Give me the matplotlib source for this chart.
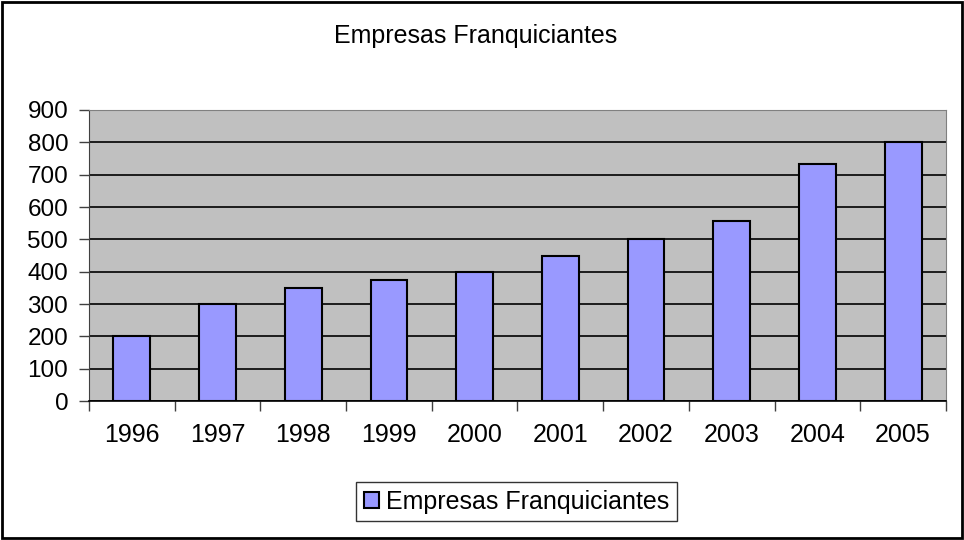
import matplotlib.pyplot as plt
from matplotlib.patches import Rectangle
from matplotlib.ticker import FixedLocator

years = ['1996', '1997', '1998', '1999', '2000', '2001', '2002', '2003', '2004', '2005']
empresas = [200, 300, 350, 375, 400, 447, 500, 557, 734, 800]
series_name = 'Empresas Franquiciantes'

plt.rcParams['font.family'] = ['Liberation Sans', 'DejaVu Sans']

fig = plt.figure(figsize=(9.64, 5.40), dpi=100)
ax = fig.add_axes([0.0923, 0.2574, 0.889, 0.5389])

x = range(len(years))
ax.bar(x, empresas, width=0.43, color='#9999FF', edgecolor='black',
       linewidth=1.5, label=series_name, zorder=3)

ax.set_facecolor('#C0C0C0')
ax.set_xlim(-0.5, len(years) - 0.5)
ax.set_ylim(0, 900)
ax.set_yticks(range(0, 1000, 100))
ax.yaxis.grid(True, color='black', linewidth=1.2, zorder=1)
ax.set_axisbelow(True)

ax.set_xticks(list(x))
ax.set_xticklabels(years, fontsize=18)
ax.tick_params(axis='x', length=0, pad=16)
ax.xaxis.set_minor_locator(FixedLocator([i + 0.5 for i in range(-1, len(years))]))
ax.tick_params(axis='x', which='minor', length=7, color='#404040', width=1)
ax.tick_params(axis='y', labelsize=17.5, length=7, color='#404040', width=1, pad=8)

for side in ['top', 'right']:
    ax.spines[side].set_color('#808080')
ax.spines['left'].set_color('#404040')
ax.spines['bottom'].set_color('black')
ax.spines['bottom'].set_linewidth(1.2)

fig.text(0.4938, 0.933, series_name, ha='center', va='center', fontsize=18)

leg = fig.legend(loc='center', bbox_to_anchor=(0.536, 0.071), fontsize=18,
                 frameon=True, fancybox=False, handlelength=0.6, handleheight=0.6,
                 handletextpad=0.3, borderpad=0.3, borderaxespad=0)
leg.get_frame().set_edgecolor('black')
leg.get_frame().set_linewidth(1)

fig.patches.append(Rectangle((0.002, 0.003), 0.996, 0.994, transform=fig.transFigure,
                             fill=False, edgecolor='black', linewidth=2))

fig.savefig('out.png', dpi=100)
